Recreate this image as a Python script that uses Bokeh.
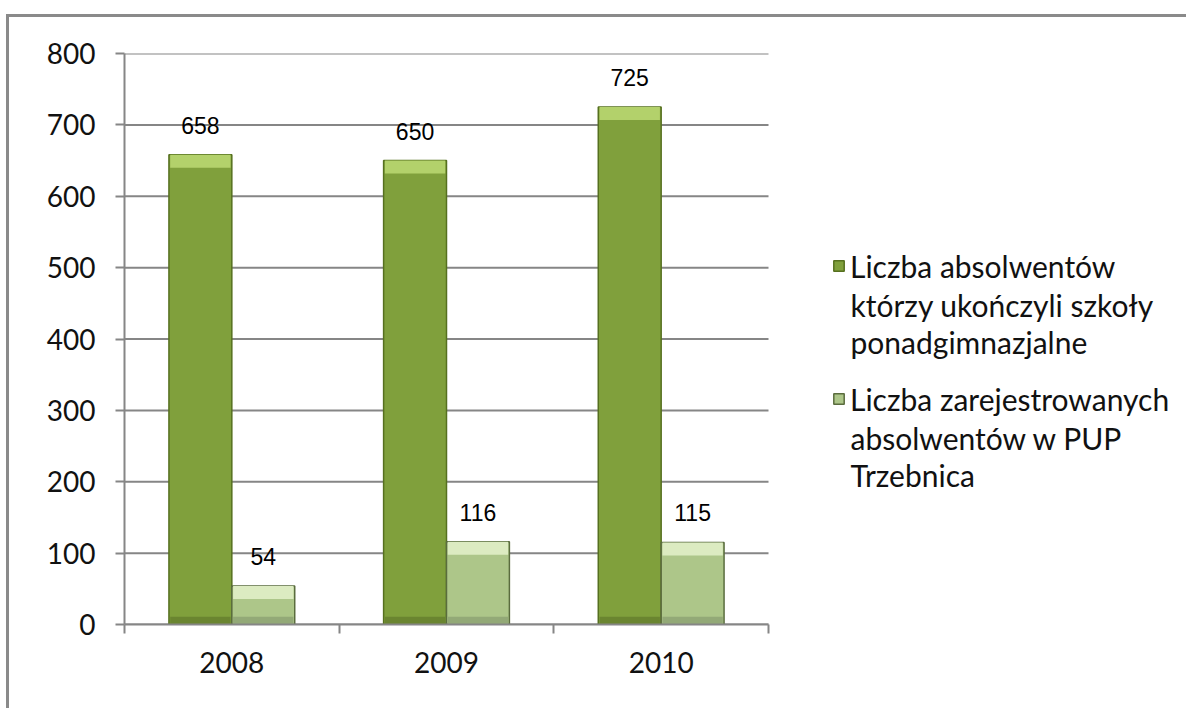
from bokeh.plotting import figure
from bokeh.models import (FixedTicker, Legend, LegendItem, ColumnDataSource)
from bokeh.core.properties import value
from bokeh.embed import file_html
from bokeh.resources import INLINE

years = ["2008", "2009", "2010"]
graduates = [658, 650, 725]
registered = [54, 116, 115]
series1_lines = ["Liczba absolwentów", "którzy ukończyli szkoły", "ponadgimnazjalne"]
series2_lines = ["Liczba zarejestrowanych", "absolwentów w PUP", "Trzebnica"]
y_ticks = [0, 100, 200, 300, 400, 500, 600, 700, 800]

# ---- layout (pixels on the canvas) ----
W, H = 1180, 694
left_px, top_px, bottom_px = 115, 36, 87
plot_w = 644            # width of the bar area
frame_w = W - left_px - 5
frame_h = H - top_px - bottom_px
n = len(years)
x_end = n * frame_w / plot_w
px_x = n / plot_w       # data units per pixel (x)
px_y = 800 / frame_h    # data units per pixel (y)

centers = [i + 0.5 for i in range(n)]
bw = 0.293
x1 = [c - bw / 2 for c in centers]
x2 = [c + bw / 2 for c in centers]

p = figure(width=W, height=H, output_backend="svg", toolbar_location=None,
           x_range=(0, x_end), y_range=(0, 800),
           min_border_left=left_px, min_border_top=top_px,
           min_border_bottom=bottom_px, min_border_right=5)
p.styles = {"margin-top": "14px", "margin-left": "6px",
            "border-top": "3px solid #8a8a8a",
            "border-left": "3px solid #8a8a8a"}
p.outline_line_color = None
p.background_fill_color = "white"
p.border_fill_color = "white"

grey = "#868686"
p.xgrid.grid_line_color = None
p.ygrid.grid_line_color = None
# horizontal gridlines only across the bar area
p.segment(x0=[0] * len(y_ticks), x1=[n] * len(y_ticks), y0=y_ticks, y1=y_ticks,
          line_color=grey, line_width=2)

p.yaxis.ticker = FixedTicker(ticks=y_ticks)
p.yaxis.axis_line_color = grey
p.yaxis.axis_line_width = 2
p.yaxis.major_tick_line_color = grey
p.yaxis.major_tick_line_width = 2
p.yaxis.major_tick_out = 9
p.yaxis.major_tick_in = 0
p.yaxis.minor_tick_line_color = None
p.yaxis.major_label_standoff = 20
p.yaxis.major_label_text_font = "Lato"
p.yaxis.major_label_text_font_size = "28px"
p.yaxis.major_label_text_color = "#111111"

p.xaxis.bounds = (0, n)
p.xaxis.ticker = FixedTicker(ticks=centers, minor_ticks=list(range(n + 1)))
p.xaxis.major_label_overrides = {c: y for c, y in zip(centers, years)}
p.xaxis.axis_line_color = grey
p.xaxis.axis_line_width = 2
p.xaxis.major_tick_line_color = None
p.xaxis.minor_tick_line_color = grey
p.xaxis.minor_tick_line_width = 2
p.xaxis.minor_tick_out = 9
p.xaxis.minor_tick_in = 0
p.xaxis.major_tick_out = 9
p.xaxis.major_label_standoff = 18
p.xaxis.major_label_text_font = "Lato"
p.xaxis.major_label_text_font_size = "28px"
p.xaxis.major_label_text_color = "#111111"

cap = 13 * px_y  # bevel height
src1 = ColumnDataSource(dict(x=x1, top=graduates, cap_bot=[v - cap for v in graduates],
                             lbl=[str(v) for v in graduates]))
src2 = ColumnDataSource(dict(x=x2, top=registered, cap_bot=[v - cap for v in registered],
                             lbl=[str(v) for v in registered]))

r1 = p.vbar(x="x", top="top", bottom=0, width=bw, source=src1,
            fill_color="#80a03c", line_color="#56701f", line_width=1.5)
p.vbar(x="x", top="top", bottom="cap_bot", width=bw * 0.96, source=src1,
       fill_color="#b3d16b", line_color=None)
p.vbar(x="x", top=cap * 0.6, bottom=0.5 * px_y, width=bw * 0.96, source=src1,
       fill_color="#6a8530", line_color=None)
r2 = p.vbar(x="x", top="top", bottom=0, width=bw, source=src2,
            fill_color="#adc689", line_color="#5a6c3e", line_width=1.5)
p.vbar(x="x", top="top", bottom="cap_bot", width=bw * 0.96, source=src2,
       fill_color="#dcebc1", line_color=None)
p.vbar(x="x", top=cap * 0.6, bottom=0.5 * px_y, width=bw * 0.96, source=src2,
       fill_color="#93a977", line_color=None)

for s in (src1, src2):
    p.text(x="x", y="top", text="lbl", source=s, text_align="center",
           text_baseline="bottom", y_offset=-21,
           text_font=value("Liberation Sans"), text_font_size="23px",
           text_color="black")

# ---- legend: first line with a swatch, continuation lines as text ----
line_gap = 37          # px between legend text lines
first_line_px = [267, 400]   # page-y of each item's first line
item_h = 33
leg_font = "30px"
for r, lines, fy in ((r1, series1_lines, first_line_px[0]),
                     (r2, series2_lines, first_line_px[1])):
    lg = Legend(items=[LegendItem(label=lines[0], renderers=[r])],
                location=(834 - 126, (624 - fy) - item_h / 2))
    lg.border_line_color = None
    lg.background_fill_alpha = 0
    lg.padding = 0
    lg.margin = 0
    lg.label_text_font = "Lato"
    lg.label_text_font_size = leg_font
    lg.label_text_color = "#111111"
    lg.label_text_baseline = "middle"
    lg.label_height = item_h
    lg.glyph_width = 13
    lg.glyph_height = 13
    lg.label_standoff = 5
    p.add_layout(lg)
    rest = lines[1:]
    p.text(x=[(852 - 126) * px_x] * len(rest),
           y=[(624 - (fy + line_gap * (k + 1))) * px_y for k in range(len(rest))],
           text=rest, text_align="left", text_baseline="middle",
           text_font=value("Lato"), text_font_size=leg_font, text_color="#111111")

open("out.html", "w").write(file_html(p, INLINE))
